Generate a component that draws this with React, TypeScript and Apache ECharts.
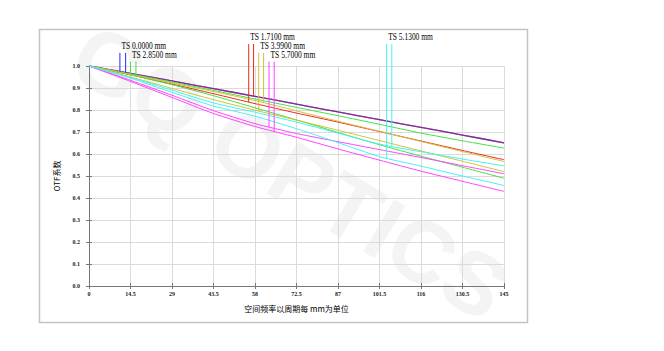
import React, { useEffect, useRef } from "react";
import * as echarts from "echarts";

// spatial frequency (cycles per mm)
const freq = [0, 14.5, 29, 43.5, 58, 72.5, 87, 101.5, 116, 130.5, 145];

// OTF modulus per field (T / S)
const ts0000T = [1.0, 0.966, 0.932, 0.897, 0.862, 0.827, 0.791, 0.756, 0.721, 0.686, 0.651];
const ts0000S = [1.0, 0.966, 0.932, 0.897, 0.862, 0.827, 0.791, 0.756, 0.721, 0.686, 0.651];
const ts1710T = [1.0, 0.966, 0.932, 0.897, 0.862, 0.827, 0.791, 0.756, 0.721, 0.686, 0.651];
const ts1710S = [1.0, 0.96, 0.918, 0.874, 0.829, 0.786, 0.745, 0.702, 0.659, 0.616, 0.574];
const ts2850T = [1.0, 0.964, 0.927, 0.889, 0.85, 0.812, 0.774, 0.735, 0.695, 0.66, 0.627];
const ts2850S = [1.0, 0.96, 0.915, 0.865, 0.81, 0.755, 0.698, 0.642, 0.59, 0.54, 0.49];
const ts3990T = [1.0, 0.962, 0.923, 0.884, 0.843, 0.796, 0.749, 0.703, 0.657, 0.611, 0.566];
const ts3990S = [1.0, 0.95, 0.898, 0.847, 0.799, 0.754, 0.708, 0.661, 0.614, 0.567, 0.52];
const ts5130T = [1.0, 0.948, 0.89, 0.832, 0.79, 0.745, 0.695, 0.645, 0.61, 0.577, 0.546];
const ts5130S = [1.0, 0.945, 0.88, 0.818, 0.772, 0.715, 0.652, 0.588, 0.545, 0.5, 0.457];
const ts5700T = [1.0, 0.935, 0.867, 0.797, 0.738, 0.693, 0.656, 0.62, 0.584, 0.547, 0.51];
const ts5700S = [1.0, 0.93, 0.857, 0.784, 0.725, 0.676, 0.623, 0.572, 0.522, 0.476, 0.43];

// field legend labels and their marker lines
const fieldLabels = ["TS 0.0000 mm", "TS 2.8500 mm", "TS 1.7100 mm", "TS 3.9900 mm", "TS 5.7000 mm", "TS 5.1300 mm"];
const markerX = [[10.8, 12.8], [14.5, 16.4], [55.8, 57.5], [59.3, 61.0], [62.9, 64.7], [104.0, 105.8]];
const markerEnd = [[0.975, 0.97], [0.964, 0.955], [0.836, 0.864], [0.795, 0.832], [0.722, 0.702], [0.581, 0.635]];
const markerTop = [1.06, 1.02, 1.1, 1.06, 1.02, 1.1];

const BLUE = "#2a2aff";
const GREEN = "#44e044";
const RED = "#ee2a1a";
const YELLOW = "#d2c23c";
const MAGENTA = "#ff44ff";
const CYAN = "#44f2f2";
const fieldColors = [BLUE, GREEN, RED, YELLOW, MAGENTA, CYAN];

const curves: { d: number[]; c: string; o?: number; w?: number }[] = [
  { d: ts0000T, c: BLUE, w: 1.3 },
  { d: ts0000S, c: BLUE, o: 0 },
  { d: ts1710T, c: RED, o: 0.5, w: 1.3 },
  { d: ts1710S, c: RED },
  { d: ts2850T, c: GREEN },
  { d: ts2850S, c: GREEN },
  { d: ts3990T, c: YELLOW },
  { d: ts3990S, c: YELLOW },
  { d: ts5700T, c: MAGENTA },
  { d: ts5700S, c: MAGENTA },
  { d: ts5130T, c: CYAN },
  { d: ts5130S, c: CYAN },
];

export default function App() {
  const ref = useRef<HTMLDivElement>(null);
  useEffect(() => {
    if (!ref.current) return;
    const chart = echarts.init(ref.current, undefined, { renderer: "svg" });
    const axisColor = "#777";
    const tickFont = { fontSize: 6, fontWeight: "bold" as const, fontFamily: "Liberation Serif", color: "#222" };
    const series: any[] = [];
    curves.forEach((cv) => {
      series.push({
        type: "line",
        data: freq.map((f, i) => [f, cv.d[i]]),
        symbol: "none",
        smooth: 0.2,
        silent: true,
        lineStyle: { color: cv.c, width: cv.w ?? 1, opacity: cv.o ?? 1 },
        z: 3,
      });
    });
    markerX.forEach((xs, i) => {
      xs.forEach((x, j) => {
        series.push({
          type: "line",
          data: [[x, markerEnd[i][j]], [x, markerTop[i]]],
          symbol: "none",
          clip: false,
          silent: true,
          lineStyle: { color: fieldColors[i], width: 1 },
          z: 4,
        });
      });
    });
    chart.setOption({
      animation: false,
      backgroundColor: "#ffffff",
      grid: { left: 89, right: 160, top: 66, bottom: 65 },
      xAxis: [
        {
          type: "value",
          min: 0,
          max: 145,
          interval: 14.5,
          position: "bottom",
          axisLine: { lineStyle: { color: axisColor } },
          axisTick: { inside: true, length: 3, lineStyle: { color: axisColor } },
          axisLabel: { ...tickFont, margin: 5 },
          splitLine: { show: true, lineStyle: { color: "#dadada" } },
          name: "空间频率以周期每 mm为单位",
          nameLocation: "middle",
          nameGap: 18,
          nameTextStyle: { fontSize: 8, fontFamily: "Noto Sans CJK SC", color: "#000" },
        },
        {
          type: "value",
          min: 0,
          max: 145,
          interval: 14.5,
          position: "top",
          axisLine: { lineStyle: { color: axisColor } },
          axisTick: { inside: true, length: 3, lineStyle: { color: axisColor } },
          axisLabel: { show: false },
          splitLine: { show: false },
        },
      ],
      yAxis: [
        {
          type: "value",
          min: 0,
          max: 1,
          interval: 0.1,
          position: "left",
          axisLine: { show: true, lineStyle: { color: axisColor } },
          axisTick: { show: true, inside: true, length: 3, lineStyle: { color: axisColor } },
          axisLabel: { ...tickFont, margin: 9, formatter: (v: number) => v.toFixed(1) },
          splitLine: { show: true, lineStyle: { color: "#dadada" } },
          name: "OTF系数",
          nameLocation: "middle",
          nameRotate: 90,
          nameGap: 29,
          nameTextStyle: { fontSize: 8, fontFamily: "Noto Sans CJK SC", color: "#000" },
        },
        {
          type: "value",
          min: 0,
          max: 1,
          interval: 0.1,
          position: "right",
          axisLine: { show: true, lineStyle: { color: axisColor } },
          axisTick: { show: true, inside: true, length: 3, lineStyle: { color: axisColor } },
          axisLabel: { show: false },
          splitLine: { show: false },
        },
      ],
      series,
    });

    const graphic: any[] = [
      {
        type: "rect",
        silent: true,
        z: -10,
        shape: { x: 39.5, y: 29.5, width: 488, height: 293 },
        style: { fill: "none", stroke: "#c4c4c4", lineWidth: 1.5 },
      },
      {
        type: "text",
        silent: true,
        z: -5,
        x: 290,
        y: 172,
        rotation: -0.54,
        style: {
          text: "GQ OPTICS",
          fontSize: 88,
          fontWeight: "bold",
          fontFamily: "Liberation Sans",
          fill: "#f4f4f4",
          align: "center",
          verticalAlign: "middle",
        },
      },
    ];
    fieldLabels.forEach((t, i) => {
      const p = chart.convertToPixel({ gridIndex: 0 }, [markerX[i][0], markerTop[i]]) as number[];
      graphic.push({
        type: "text",
        silent: true,
        x: p[0] + 1.5,
        y: p[1] - 7,
        scaleX: 0.75,
        style: {
          text: t,
          fontSize: 10,
          fontFamily: "Liberation Serif",
          fill: "#000",
          align: "left",
          verticalAlign: "middle",
        },
      });
    });
    chart.setOption({ graphic });
    return () => chart.dispose();
  }, []);
  return (
    <div
      ref={ref}
      style={{ position: "fixed", left: 0, top: 0, width: 664, height: 351, background: "#fff" }}
    />
  );
}
